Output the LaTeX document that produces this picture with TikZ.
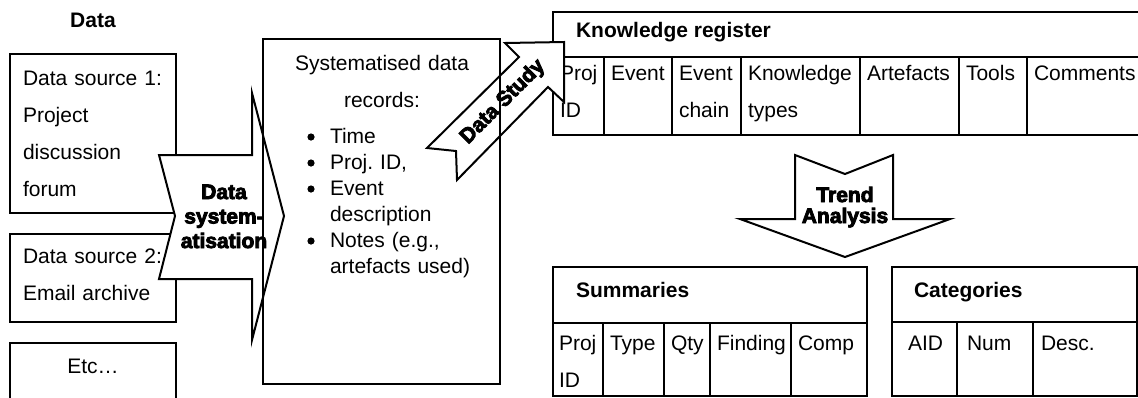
\documentclass[tikz,border=0pt]{standalone}
\usepackage{fontspec}
\setmainfont{Liberation Sans}
\newfontfamily\heavyfont{Liberation Sans}[BoldFeatures={FakeBold=4}]
\usetikzlibrary{positioning}

\newcommand\txtfont{\fontsize{10.5}{18.5}\selectfont}
\newcommand\listfont{\fontsize{10.5}{13}\selectfont}
\newcommand\arrfont{\fontsize{10.5}{12.25}\selectfont\heavyfont\bfseries}

\begin{document}
\frenchspacing
\begin{tikzpicture}[x=0.5pt, y=-0.5pt, line width=1pt,
    every node/.style={inner sep=0pt, font=\txtfont},
    cell/.style={anchor=base west, text width=60pt, align=left},
    title/.style={anchor=base west, font=\txtfont\bfseries},
    blockarrow/.style={draw, fill=white, line width=1pt, line join=miter}]
    \useasboundingbox (0,0) rectangle (1138,397);

    \draw (10,54) rectangle (176,213);
    \draw (10,234) rectangle (176,322);
    \draw (10,400) |- (176,343) -- (176,400);

    \draw (1145,12) -| (553,135) -- (1145,135);
    \draw (553,57) -- (1145,57);
    \foreach \x in {604,672,741,860,959,1027}
        \draw (\x,57) -- (\x,135);
    \node[title] (krTitle) at (575,37) {Knowledge register};
    \foreach \x/\t [count=\i] in {559/{Proj\\ID}, 610/Event, 678/{Event\\chain}, 747/{Knowledge\\types}, 866/Artefacts, 965/Tools, 1033/Comments}
        \node[cell] (kr\i) at (\x,80) {\t};

    \draw (553,267) rectangle (867,396);
    \draw (553,323) -- (867,323);
    \foreach \x in {603,664,710,791}
        \draw (\x,323) -- (\x,396);

    \draw (892,267) rectangle (1137,396);
    \draw (892,322) -- (1137,322);
    \foreach \x in {957,1033}
        \draw (\x,322) -- (\x,396);

    \draw[blockarrow] (159,155) -- (252,155) -- (252,93) -- (284,216) -- (252,340)
        -- (252,279) -- (159,279) -- (175,216) -- cycle;
    \draw[blockarrow] (427,148) -- (456,151) -- (457,180) -- (548,87) -- (564,102)
        -- (564,42) -- (505,43) -- (519,57) -- cycle;
    \draw[blockarrow] (795,155) -- (845,174) -- (893,155) -- (893,219) -- (950,219)
        -- (845,257) -- (740,219) -- (795,219) -- cycle;

    \draw (263,39) rectangle (500,384);

    \node[anchor=base, font=\txtfont\bfseries] (dataHead) at (93,27) {Data};
    \node[cell, text width=80pt] (srcOne) at (22,85) {Data source 1:\\Project\\discussion\\forum};
    \node[cell, text width=80pt] (srcTwo) at (22,263) {Data source 2:\\Email archive};
    \node[anchor=base] (srcEtc) at (93,373) {Etc…};

    \node[anchor=base, text width=110pt, align=center] (recText) at (382,70) {Systematised data\\records:};
    \node[anchor=base west, text width=90pt, align=left, font=\listfont] (recList) at (329,143)
        {Time\\Proj. ID,\\Event\\description\\Notes (e.g.,\\artefacts used)};
    \foreach \y in {137,163,189,241}
        \fill (311,\y) circle (3.6);

    \node[anchor=base, text width=60pt, align=center, font=\arrfont] (sysLabel) at (224,199) {Data\\system-\\atisation};
    \node[rotate=45, font=\arrfont] (studyLabel) at (503,102) {Data Study};
    \node[anchor=base, text width=60pt, align=center, font=\arrfont\fontsize{10.5}{10.5}\selectfont] (trendLabel) at (845,202) {Trend\\Analysis};

    \node[title] (sumTitle) at (575,297) {Summaries};
    \foreach \x/\t [count=\i] in {558/{Proj\\ID}, 609/Type, 670/Qty, 716/Finding, 797/Comp}
        \node[cell] (sum\i) at (\x,350) {\t};

    \node[title] (catTitle) at (913,297) {Categories};
    \foreach \x/\t [count=\i] in {907/AID, 966/Num, 1040/Desc.}
        \node[cell] (cat\i) at (\x,350) {\t};
\end{tikzpicture}
\end{document}
